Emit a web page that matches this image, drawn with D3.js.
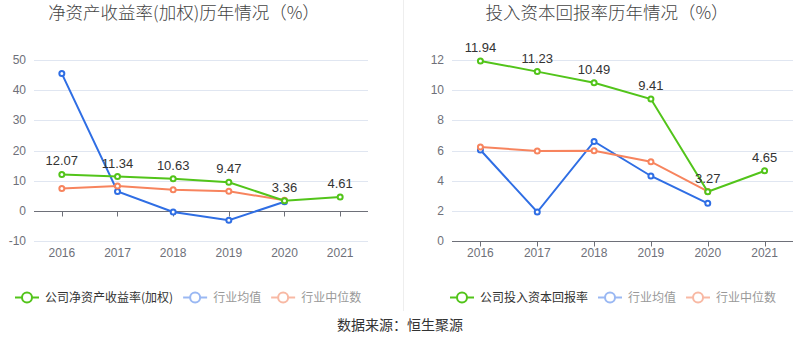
<!DOCTYPE html>
<meta charset="utf-8">
<head>
<style>
body { margin: 0; background: #fff; }
text { font-family: "Liberation Sans", Arial, "Noto Sans CJK SC", sans-serif; }
.cjk { font-family: "Noto Sans CJK SC", "Liberation Sans", sans-serif; }
</style>
</head>
<body>
<div id="chart"></div>
<script src="https://d3js.org/d3.v7.min.js"></script>
<script>
// years shared by both panels
const years = ["2016", "2017", "2018", "2019", "2020", "2021"];

// left: ROE (weighted)
const roeCompany = [12.07, 11.34, 10.63, 9.47, 3.36, 4.61];
const roeMean = [45.5, 6.4, -0.4, -3.1, 3.0, null];
const roeMedian = [7.4, 8.2, 7.0, 6.5, 3.5, null];
const roeTicks = [-10, 0, 10, 20, 30, 40, 50];

// right: ROIC
const roicCompany = [11.94, 11.23, 10.49, 9.41, 3.27, 4.65];
const roicMean = [6.03, 1.92, 6.6, 4.31, 2.5, null];
const roicMedian = [6.23, 5.97, 5.99, 5.26, 3.29, null];
const roicTicks = [0, 2, 4, 6, 8, 10, 12];

const green = "#52c41a", blue = "#2f6ee4", orange = "#f7845e";
const blueLight = "#9ab8f3", orangeLight = "#f8b9a4";

const width = 800, height = 358;

const svg = d3.select("#chart").append("svg")
  .attr("width", width)
  .attr("height", height);

// divider between the two panels
svg.append("line")
  .attr("x1", 403.5).attr("x2", 403.5)
  .attr("y1", 0).attr("y2", 311)
  .attr("stroke", "#eeeeee");

function panel(opt) {
  const g = svg.append("g");
  const x = d3.scaleBand().domain(years).range([opt.x0, opt.x1]);
  const y = d3.scaleLinear().domain(opt.domain).range([241, 60]);
  const cx = d => x(d) + x.bandwidth() / 2;

  // title
  g.append("text")
    .attr("class", "cjk")
    .attr("x", opt.titleX).attr("y", 19)
    .attr("text-anchor", "middle")
    .attr("font-size", 17.5)
    .attr("font-weight", 300)
    .attr("fill", "#444")
    .text(opt.title);

  // gridlines
  g.selectAll(".grid").data(opt.ticks.filter(t => t !== 0))
    .enter().append("line")
    .attr("x1", opt.x0).attr("x2", opt.x1)
    .attr("y1", d => Math.round(y(d)) + 0.5).attr("y2", d => Math.round(y(d)) + 0.5)
    .attr("stroke", "#e0e6f1");

  // y tick labels
  g.selectAll(".ylab").data(opt.ticks)
    .enter().append("text")
    .attr("x", opt.x0 - 8).attr("y", d => y(d) + 4)
    .attr("text-anchor", "end")
    .attr("font-size", 12)
    .attr("fill", "#6e7079")
    .text(d => d);

  // x axis at zero
  const y0 = Math.round(y(0)) + 0.5;
  g.append("line")
    .attr("x1", opt.x0).attr("x2", opt.x1)
    .attr("y1", y0).attr("y2", y0)
    .attr("stroke", "#6e7079");
  g.selectAll(".xtick").data(years)
    .enter().append("line")
    .attr("x1", d => Math.round(cx(d)) + 0.5).attr("x2", d => Math.round(cx(d)) + 0.5)
    .attr("y1", y0).attr("y2", y0 + 5)
    .attr("stroke", "#6e7079");
  g.selectAll(".xlab").data(years)
    .enter().append("text")
    .attr("x", cx).attr("y", 257)
    .attr("text-anchor", "middle")
    .attr("font-size", 12)
    .attr("fill", "#6e7079")
    .text(d => d);

  const line = d3.line()
    .defined(d => d[1] != null)
    .x(d => cx(d[0]))
    .y(d => y(d[1]));

  const series = [
    { vals: opt.mean, color: blue },
    { vals: opt.median, color: orange },
    { vals: opt.company, color: green }
  ];
  series.forEach(s => {
    const pts = years.map((yr, i) => [yr, s.vals[i]]);
    g.append("path")
      .datum(pts)
      .attr("d", line)
      .attr("fill", "none")
      .attr("stroke", s.color)
      .attr("stroke-width", 2);
    g.selectAll(null).data(pts.filter(p => p[1] != null))
      .enter().append("circle")
      .attr("cx", p => cx(p[0])).attr("cy", p => y(p[1]))
      .attr("r", 2.5)
      .attr("fill", "#fff")
      .attr("stroke", s.color)
      .attr("stroke-width", 2);
  });

  // value labels on company series
  g.selectAll(".vlab").data(years.map((yr, i) => [yr, opt.company[i]]))
    .enter().append("text")
    .attr("x", d => cx(d[0])).attr("y", d => y(d[1]) - 9)
    .attr("text-anchor", "middle")
    .attr("font-size", 13)
    .attr("fill", "#333")
    .text(d => d[1].toFixed(2));

  // legend
  const items = [
    { label: opt.legendName, color: green, text: "#333" },
    { label: "行业均值", color: blueLight, text: "#999" },
    { label: "行业中位数", color: orangeLight, text: "#999" }
  ];
  let lx = opt.legendX;
  items.forEach(it => {
    const lg = g.append("g");
    lg.append("line")
      .attr("x1", lx).attr("x2", lx + 24)
      .attr("y1", 297.5).attr("y2", 297.5)
      .attr("stroke", it.color).attr("stroke-width", 2);
    lg.append("circle")
      .attr("cx", lx + 12).attr("cy", 297.5).attr("r", 5)
      .attr("fill", "#fff")
      .attr("stroke", it.color).attr("stroke-width", 2);
    const t = lg.append("text")
      .attr("class", "cjk")
      .attr("x", lx + 30).attr("y", 302)
      .attr("font-size", 12)
      .attr("fill", it.text)
      .text(it.label);
    lx += 30 + t.node().getComputedTextLength() + 10;
  });
}

panel({
  title: "净资产收益率(加权)历年情况（%）",
  titleX: 184,
  x0: 34, x1: 368,
  domain: [-10, 50],
  ticks: roeTicks,
  company: roeCompany, mean: roeMean, median: roeMedian,
  legendName: "公司净资产收益率(加权)",
  legendX: 15
});

panel({
  title: "投入资本回报率历年情况（%）",
  titleX: 607,
  x0: 452, x1: 793,
  domain: [0, 12],
  ticks: roicTicks,
  company: roicCompany, mean: roicMean, median: roicMedian,
  legendName: "公司投入资本回报率",
  legendX: 450
});

svg.append("text")
  .attr("class", "cjk")
  .attr("x", 400).attr("y", 330)
  .attr("text-anchor", "middle")
  .attr("font-size", 14)
  .attr("fill", "#333")
  .text("数据来源：恒生聚源");
</script>
</body>
</html>
